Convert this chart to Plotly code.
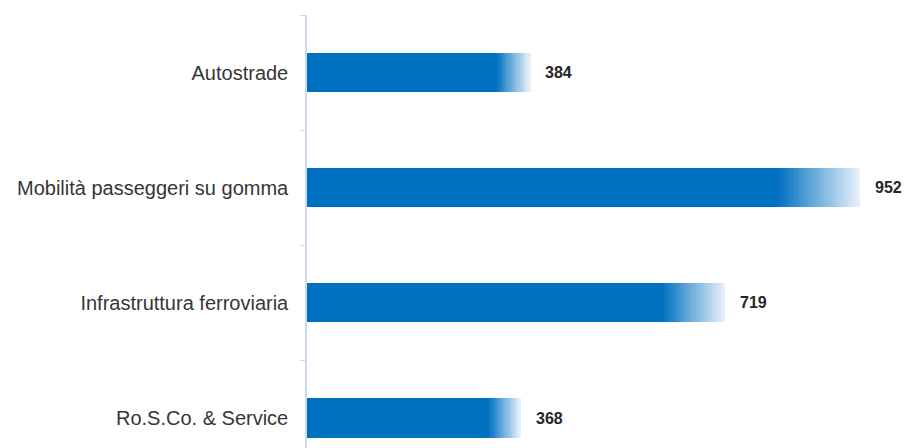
import plotly.graph_objects as go

categories = ["Autostrade", "Mobilità passeggeri su gomma", "Infrastruttura ferroviaria", "Ro.S.Co. & Service"]
values = [384, 952, 719, 368]

SOLID = (0, 112, 192)
FADE_END = (234, 242, 251)
SOLID_SHARE = 0.85
N_STEPS = 30

fig = go.Figure()

# solid body of each bar
fig.add_trace(go.Bar(
    y=categories, x=[v * SOLID_SHARE for v in values], orientation="h",
    marker=dict(color="rgb(%d,%d,%d)" % SOLID, line=dict(width=0)),
    width=0.34, hoverinfo="skip", showlegend=False,
))

# fading tail, built as thin stacked slices
for i in range(N_STEPS):
    t = (i + 0.5) / N_STEPS
    c = tuple(round(a + (b - a) * t) for a, b in zip(SOLID, FADE_END))
    fig.add_trace(go.Bar(
        y=categories, x=[v * (1 - SOLID_SHARE) / N_STEPS for v in values], orientation="h",
        marker=dict(color="rgb(%d,%d,%d)" % c, line=dict(width=0)),
        width=0.34, hoverinfo="skip", showlegend=False,
    ))

for cat, v in zip(categories, values):
    fig.add_annotation(
        x=v, y=cat, text="<b>%d</b>" % v, showarrow=False,
        xanchor="left", xshift=13, yshift=0,
        font=dict(family="Liberation Sans", size=16, color="#262626"),
    )

fig.update_layout(
    width=909, height=448,
    margin=dict(l=307, r=0, t=15, b=0),
    barmode="stack", bargap=0,
    plot_bgcolor="white", paper_bgcolor="white",
    xaxis=dict(range=[0, 1036], visible=False),
    yaxis=dict(
        categoryorder="array", categoryarray=categories,
        range=[3.26, -0.5],
        showline=True, linecolor="#cfd9ec", linewidth=1.5,
        ticks="outside", tickson="boundaries", ticklen=5, tickcolor="#cfd9ec",
        ticklabelstandoff=13,
        showgrid=False, zeroline=False,
        tickfont=dict(family="Liberation Sans, Arial", size=20, color="#363636"),
    ),
)

fig.write_html("out.html")
